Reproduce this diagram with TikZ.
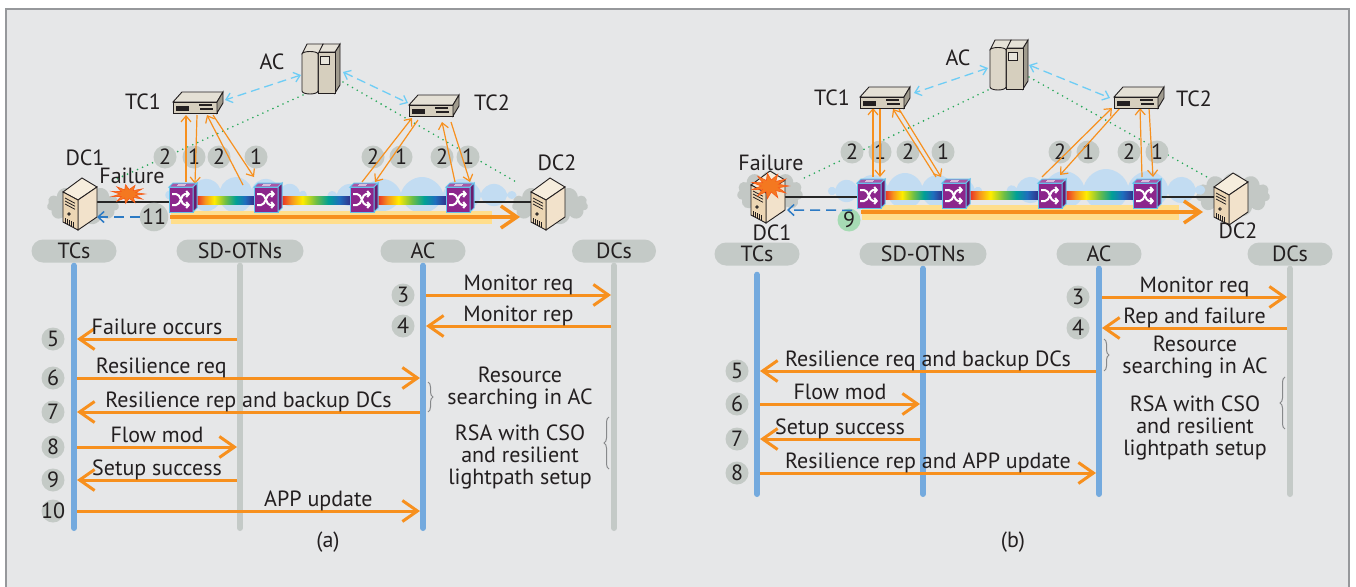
\documentclass[tikz,border=0pt]{standalone}
\usepackage{fontspec}
\setmainfont{PT Sans}
\usetikzlibrary{calc,shapes.geometric,shapes.symbols,arrows.meta,positioning,backgrounds,decorations.pathreplacing}
\definecolor{panelgray}{RGB}{230,231,232}
\definecolor{framegray}{RGB}{150,152,155}
\definecolor{txt}{RGB}{35,31,32}
\definecolor{msgorange}{RGB}{247,144,30}
\definecolor{lifeblue}{RGB}{116,170,222}
\definecolor{lifegray}{RGB}{196,202,199}
\definecolor{numgray}{RGB}{196,202,198}
\definecolor{numgreen}{RGB}{166,219,180}
\definecolor{swfront}{RGB}{140,38,140}
\definecolor{swtop}{RGB}{170,86,166}
\definecolor{swside}{RGB}{106,26,110}
\definecolor{swedge}{RGB}{100,196,236}
\definecolor{cloudblue}{RGB}{194,220,242}
\definecolor{cloudgray}{RGB}{195,200,197}
\definecolor{bandyellow}{RGB}{255,222,140}
\definecolor{dotgreen}{RGB}{38,168,88}
\definecolor{ctlblue}{RGB}{110,205,245}
\definecolor{dcblue}{RGB}{44,122,196}
\definecolor{srvbeige}{RGB}{214,207,190}
\definecolor{pcbeige}{RGB}{236,214,180}
\definecolor{boom}{RGB}{244,120,32}
\definecolor{rbred}{RGB}{232,50,40}
\definecolor{rborange}{RGB}{247,148,30}
\definecolor{rbyellow}{RGB}{255,236,0}
\definecolor{rbgreen}{RGB}{110,190,70}
\definecolor{rbteal}{RGB}{0,160,150}
\definecolor{rbblue}{RGB}{30,110,190}
\definecolor{rbnavy}{RGB}{50,50,140}

\pgfdeclarehorizontalshading{rainbow}{100bp}{color(0bp)=(rbred); color(25bp)=(rbred);
  color(32bp)=(rborange); color(40bp)=(rbyellow); color(50bp)=(rbgreen);
  color(59bp)=(rbteal); color(67bp)=(rbblue); color(75bp)=(rbnavy); color(100bp)=(rbnavy)}

\tikzset{
  pill/.style={rounded corners=11.5pt, fill=lifegray, minimum height=23pt, inner sep=0pt},
  num/.style={circle, fill=numgray, minimum size=23pt, inner sep=0pt},
  lifeb/.style={draw=lifeblue, line width=6pt, line cap=round},
  lifeg/.style={draw=lifegray, line width=6pt, line cap=round},
  msg/.style={draw=msgorange, line width=3pt, -{Straight Barb[length=15pt,width=21pt]},
    shorten <=3pt, shorten >=3pt},
  msgtxt/.style={above, inner sep=1pt, text height=0.72em, text depth=0.25em},
  note/.style={align=center, inner sep=0pt},
  brc/.style={draw=framegray!90!black, line width=1pt, decorate, decoration={brace, amplitude=5pt}},
  lbl/.style={inner sep=0pt},
  dccloud/.style={cloud, cloud puffs=11, aspect=1.8, minimum width=72pt, minimum height=40pt,
    fill=cloudgray, inner sep=0pt},
  otncloud/.style={cloud, cloud puffs=14, aspect=4, minimum height=36pt, fill=cloudblue, inner sep=0pt},
  band/.style={fill=bandyellow, minimum height=13pt, inner sep=0pt},
  fibre/.style={draw=black!85, line width=2.5pt},
  proto/.style={draw=msgorange, line width=3.5pt, -{Straight Barb[length=16pt,width=22pt]}},
  ctl/.style={draw=msgorange, line width=1.2pt, -{Straight Barb[length=6pt,width=10pt]}},
  ctldash/.style={draw=ctlblue, line width=1.3pt, dash pattern=on 9pt off 5pt,
    {Straight Barb[length=6pt,width=10pt]}-{Straight Barb[length=6pt,width=10pt]}},
  mondot/.style={draw=dotgreen, line width=1.8pt, line cap=round, dash pattern=on 0pt off 5.5pt},
  dcdash/.style={draw=dcblue, line width=1.5pt, dash pattern=on 10pt off 6pt,
    -{Straight Barb[length=6pt,width=11pt]}},
  % failure burst
  burst/.pic={
    \filldraw[fill=boom, draw=boom!75!red, line width=0.6pt]
      plot[samples at={0,...,21}, variable=\k]
        ({ifthenelse(mod(\k,2)==0,17,8)*cos(\k*360/22)}, {ifthenelse(mod(\k,2)==0,9.5,4.5)*sin(\k*360/22)}) -- cycle;
  },
  % optical switch cube
  otnsw/.pic={
    \filldraw[fill=swfront, draw=swedge, line width=1pt] (-14,-10) rectangle (10,15);
    \filldraw[fill=swtop, draw=swedge, line width=1pt] (-14,-10) -- (-10,-14) -- (14,-14) -- (10,-10) -- cycle;
    \filldraw[fill=swside, draw=swedge, line width=1pt] (10,-10) -- (14,-14) -- (14,11) -- (10,15) -- cycle;
    \draw[white!60!swtop, line width=0.7pt] (-5,-12.8) -- (3,-12.8) (-6,-11.2) -- (2,-11.2);
    \draw[white, line width=2pt, -{Straight Barb[length=2.5pt,width=6pt]}]
      (-11,-3) -- (-7,-3) .. controls (-2,-3) and (-2,8) .. (2,8) -- (7,8);
    \draw[white, line width=2pt, -{Straight Barb[length=2.5pt,width=6pt]}]
      (-11,8) -- (-7,8) .. controls (-2,8) and (-2,-3) .. (2,-3) -- (7,-3);
  },
  % flat controller box
  tcbox/.pic={
    \filldraw[fill=srvbeige!65!white, draw=txt, line width=0.9pt] (-26,-1) -- (-17,-11) -- (24,-11) -- (18,-1) -- cycle;
    \filldraw[fill=srvbeige, draw=txt, line width=0.9pt] (-26,-1) rectangle (18,10);
    \filldraw[fill=srvbeige!75!black, draw=txt, line width=0.9pt] (18,-1) -- (24,-11) -- (24,0) -- (18,10) -- cycle;
    \fill[txt] (-23,3) rectangle (-10,8);
    \draw[txt, line width=1.1pt] (0,2) -- (13,2) (1,6) -- (14,6);
  },
  % orchestrator cabinet
  acsrv/.pic={
    \filldraw[fill=srvbeige!75!black, draw=txt, line width=0.9pt] (14,-17) -- (19,-25) -- (19,16) -- (14,24) -- cycle;
    \filldraw[fill=srvbeige!60!white, draw=txt, line width=0.9pt] (-3,-17) -- (2,-25) -- (19,-25) -- (14,-17) -- cycle;
    \filldraw[fill=srvbeige, draw=txt, line width=0.9pt] (-3,-17) rectangle (14,24);
    \filldraw[fill=srvbeige!55!white, draw=txt, line width=0.9pt] (-1,-13) rectangle (8,-5);
    \filldraw[fill=srvbeige!60!white, draw=txt, line width=0.9pt] (-19,-15) -- (-14,-25) -- (2,-25) -- (-3,-15) -- cycle;
    \filldraw[fill=srvbeige!85!white, draw=txt, line width=0.9pt] (-19,-15)
      arc[start angle=180, end angle=360, x radius=8, y radius=2.5] -- (-3,22)
      arc[start angle=0, end angle=180, x radius=8, y radius=3] -- cycle;
  },
  % data centre tower
  dcsrv/.pic={
    \filldraw[fill=pcbeige!45!white, draw=txt, line width=0.9pt] (-17,-11) -- (2,-25) -- (17,-16) -- (-2,-3) -- cycle;
    \filldraw[fill=pcbeige!70!white, draw=txt, line width=0.9pt] (-2,-3) -- (17,-16) -- (17,14) -- (-2,27) -- cycle;
    \filldraw[fill=pcbeige, draw=txt, line width=0.9pt] (-17,-11) -- (-2,-3) -- (-2,27) -- (-17,19) -- cycle;
    \draw[txt, line width=0.8pt] (-15,-5) -- (-5,0.3) (-15,-2) -- (-5,3.3) (-15,1) -- (-5,6.3);
    \draw[txt, line width=0.8pt] (-11,11) circle[radius=1.3];
    \foreach \k in {0,...,4} \draw[txt, line width=0.7pt] (-15+2*\k,15+1.07*\k) -- ++(0,6);
  }
}

\begin{document}
\begin{tikzpicture}[x=1pt, y=-1pt, font=\fontsize{22}{22}\selectfont, text=txt]
  \useasboundingbox (0,0) rectangle (1356,586);
  \draw[fill=panelgray, draw=framegray, line width=1.5pt] (6,9) rectangle (1349,600);

  %% ---------------- (a) network ----------------
  \coordinate (aca) at (321,69);
  \coordinate (tc1a) at (199,103);
  \coordinate (tc2a) at (435,106);
  \coordinate (dc1a) at (80,203);
  \coordinate (dc2a) at (548,203);
  \coordinate (s1a) at (183,197);
  \coordinate (s2a) at (268,197);
  \coordinate (s3a) at (364,197);
  \coordinate (s4a) at (460,197);

  \node[dccloud] (cl1a) at (83,205) {};
  \node[dccloud, minimum width=76pt] (cl2a) at (550,205) {};
  \node[otncloud, minimum width=140pt] (ocl1a) at (236,195) {};
  \node[otncloud, minimum width=185pt] (ocl2a) at (422,195) {};
  \node[band, minimum width=321pt] (banda) at (331,217) {};

  \draw[fibre] ($(dc1a)+(17,-1)$) -- ($(s1a)+(-14,5)$);
  \draw[fibre] ($(s4a)+(14,5)$) -- ($(dc2a)+(-17,-1)$);
  \shade[shading=rainbow] ($(s1a)+(14,-1)$) rectangle ($(s2a)+(-14,7)$);
  \shade[shading=rainbow] ($(s2a)+(14,-1)$) rectangle ($(s3a)+(-14,7)$);
  \shade[shading=rainbow] ($(s3a)+(14,-1)$) rectangle ($(s4a)+(-14,7)$);

  \draw[mondot] ($(aca)+(-18,26)$) -- ($(dc1a)+(30,-21)$);
  \draw[mondot] ($(aca)+(22,13)$) -- ($(dc2a)+(-30,-20)$);
  \draw[ctldash] ($(aca)+(-20,6)$) -- ($(tc1a)+(26,-3)$);
  \draw[ctldash] ($(aca)+(22,3)$) -- ($(tc2a)+(-27,-3)$);

  \node[num] (c1a) at (165,157) {2};
  \node[num] (c2a) at (194,157) {1};
  \node[num] (c3a) at (219,157) {2};
  \node[num] (c4a) at (256,157) {1};
  \node[num] (c5a) at (373,157) {2};
  \node[num] (c6a) at (401,157) {1};
  \node[num] (c7a) at (442,157) {2};
  \node[num] (c8a) at (468,157) {1};

  \draw[ctl] ($(s1a)+(3,-15)$) -- ($(tc1a)+(-13,12)$);
  \draw[ctl] ($(tc1a)+(-2,12)$) -- ($(s1a)+(12,-13)$);
  \draw[ctl] ($(s2a)+(-25,-12)$) -- ($(tc1a)+(8,12)$);
  \draw[ctl] ($(tc1a)+(14,12)$) -- ($(s2a)+(-14,-20)$);
  \draw[ctl] ($(s3a)+(-2,-15)$) -- ($(tc2a)+(-23,12)$);
  \draw[ctl] ($(tc2a)+(-17,14)$) -- ($(s3a)+(11,-15)$);
  \draw[ctl] ($(s4a)+(-5,-15)$) -- ($(tc2a)+(7,16)$);
  \draw[ctl] ($(tc2a)+(16,16)$) -- ($(s4a)+(10,-15)$);

  \pic at (s1a) {otnsw};
  \pic at (s2a) {otnsw};
  \pic at (s3a) {otnsw};
  \pic at (s4a) {otnsw};
  \pic at (dc1a) {dcsrv};
  \pic at (dc2a) {dcsrv};
  \pic at (tc1a) {tcbox};
  \pic at (tc2a) {tcbox};
  \pic at (aca) {acsrv};

  \pic at (128,194) {burst};
  \node[lbl] (aclba) at (272,62) {AC};
  \node[lbl] (tc1lba) at (143,102) {TC1};
  \node[lbl] (tc2lba) at (492,103) {TC2};
  \node[lbl] (dc1lba) at (85,158) {DC1};
  \node[lbl] (dc2lba) at (557,163) {DC2};
  \node[lbl] (faila) at (132,176) {Failure};

  \draw[proto] (banda.west) -- ($(dc2a)+(-28,14)$);
  \node[num] (n11a) at (154,217) {11};
  \draw[dcdash] (n11a.west) -- ($(dc1a)+(17,14)$);

  %% ---------------- (a) messages ----------------
  \coordinate (bota) at (0,528);
  \node[pill, minimum width=85pt] (tcsa) at (74,251) {TCs};
  \node[pill, minimum width=127pt] (otna) at (240,251) {SD-OTNs};
  \node[pill, minimum width=85pt] (acsa) at (423,251) {AC};
  \node[pill, minimum width=84pt] (dcsa) at (614,251) {DCs};
  \draw[lifeb] ($(tcsa.south)+(0,3)$) -- (tcsa |- bota);
  \draw[lifeg] ($(otna.south)+(0,3)$) -- (otna |- bota);
  \draw[lifeg] ($(dcsa.south)+(0,3)$) -- (dcsa |- bota);
  \draw[lifeb] ($(acsa.south)+(0,3)$) -- (acsa |- bota);

  \node[num] (m3a) at (403,295) {3};
  \node[num] (m4a) at (403,326) {4};
  \node[num] (m5a) at (53,339) {5};
  \node[num] (m6a) at (53,378) {6};
  \node[num] (m7a) at (53,412) {7};
  \node[num] (m8a) at (53,447) {8};
  \node[num] (m9a) at (53,480) {9};
  \node[num] (m10a) at (53,511) {\makebox[0pt]{10}};

  \draw[msg] (acsa |- m3a) -- (dcsa |- m3a) node[msgtxt, midway] {Monitor req};
  \draw[msg] (dcsa |- m4a) -- (acsa |- m4a) node[msgtxt, midway] {Monitor rep};
  \draw[msg] (otna |- m5a) -- (tcsa |- m5a) node[msgtxt, midway] {Failure occurs};
  \draw[msg] (tcsa |- m6a) -- (acsa |- m6a) node[msgtxt, pos=0.25] {Resilience req};
  \draw[msg] (acsa |- m7a) -- (tcsa |- m7a) node[msgtxt, midway] {Resilience rep and backup DCs};
  \draw[msg] (tcsa |- m8a) -- (otna |- m8a) node[msgtxt, midway] {Flow mod};
  \draw[msg] (otna |- m9a) -- (tcsa |- m9a) node[msgtxt, midway] {Setup success};
  \draw[msg] (tcsa |- m10a) -- (acsa |- m10a) node[msgtxt, pos=0.7] {APP update};

  \node[note] (resa) at (520,388) {Resource\\searching in AC};
  \node[note] (rsaa) at (520,457) {RSA with CSO\\and resilient\\lightpath setup};
  \draw[brc] ($(resa)+(-92,-6)$) -- ($(resa)+(-92,24)$);
  \draw[brc] ($(rsaa)+(89,12)$) -- ($(rsaa)+(89,-40)$);
  \node[lbl] (capa) at (328,542) {(a)};

  %% ---------------- (b) network ----------------
  \coordinate (acb) at (1009,65);
  \coordinate (tc1b) at (886,98);
  \coordinate (tc2b) at (1140,98);
  \coordinate (dc1b) at (768,196);
  \coordinate (dc2b) at (1231,198);
  \coordinate (s1b) at (871,193);
  \coordinate (s2b) at (956,193);
  \coordinate (s3b) at (1052,193);
  \coordinate (s4b) at (1147,193);

  \node[dccloud, minimum width=66pt, minimum height=44pt] (cl1b) at (770,193) {};
  \node[dccloud, minimum width=74pt, minimum height=44pt] (cl2b) at (1233,195) {};
  \node[otncloud, minimum width=152pt] (ocl1b) at (905,191) {};
  \node[otncloud, minimum width=195pt, minimum height=42pt] (ocl2b) at (1106,190) {};
  \node[band, minimum width=317pt, minimum height=15pt] (bandb) at (1020,212) {};

  \draw[fibre] ($(dc1b)+(17,1)$) -- ($(s1b)+(-14,4)$);
  \draw[fibre] ($(s4b)+(14,4)$) -- ($(dc2b)+(-17,-1)$);
  \shade[shading=rainbow] ($(s1b)+(14,-2)$) rectangle ($(s2b)+(-14,6)$);
  \shade[shading=rainbow] ($(s2b)+(14,-2)$) rectangle ($(s3b)+(-14,6)$);
  \shade[shading=rainbow] ($(s3b)+(14,-2)$) rectangle ($(s4b)+(-14,6)$);

  \draw[mondot] ($(acb)+(-21,25)$) -- ($(dc1b)+(32,-16)$);
  \draw[mondot] ($(acb)+(20,12)$) -- ($(dc2b)+(-24,-21)$);
  \draw[ctldash] ($(acb)+(-21,3)$) -- ($(tc1b)+(28,-5)$);
  \draw[ctldash] ($(acb)+(20,0)$) -- ($(tc2b)+(-30,0)$);

  \node[num] (c1b) at (852,152) {2};
  \node[num] (c2b) at (880,152) {1};
  \node[num] (c3b) at (908,152) {2};
  \node[num] (c4b) at (943,152) {1};
  \node[num] (c5b) at (1060,152) {2};
  \node[num] (c6b) at (1088,152) {1};
  \node[num] (c7b) at (1129,152) {2};
  \node[num] (c8b) at (1157,152) {1};

  \draw[ctl] ($(s1b)+(2,-16)$) -- ($(tc1b)+(-13,10)$);
  \draw[ctl] ($(tc1b)+(-6,10)$) -- ($(s1b)+(9,-16)$);
  \draw[ctl] ($(s2b)+(-20,-16)$) -- ($(tc1b)+(7,11)$);
  \draw[ctl] ($(tc1b)+(13,11)$) -- ($(s2b)+(-15,-16)$);
  \draw[ctl] ($(s3b)+(-10,-16)$) -- ($(tc2b)+(-28,10)$);
  \draw[ctl] ($(tc2b)+(-20,10)$) -- ($(s3b)+(8,-18)$);
  \draw[ctl] ($(s4b)+(-5,-16)$) -- ($(tc2b)+(0,10)$);
  \draw[ctl] ($(tc2b)+(9,10)$) -- ($(s4b)+(6,-16)$);

  \pic at (s1b) {otnsw};
  \pic at (s2b) {otnsw};
  \pic at (s3b) {otnsw};
  \pic at (s4b) {otnsw};
  \pic at (dc1b) {dcsrv};
  \pic at (dc2b) {dcsrv};
  \pic at (tc1b) {tcbox};
  \pic at (tc2b) {tcbox};
  \pic at (acb) {acsrv};

  \pic[xscale=1.1, yscale=1.35] at (770,186) {burst};
  \node[lbl] (aclbb) at (958,58) {AC};
  \node[lbl] (tc1lbb) at (832,98) {TC1};
  \node[lbl] (tc2lbb) at (1194,99) {TC2};
  \node[lbl] (failb) at (771,163) {Failure};
  \node[lbl] (dc1lbb) at (772,233) {DC1};
  \node[lbl] (dc2lbb) at (1238,231) {DC2};

  \draw[proto] (bandb.west) -- ($(dc2b)+(-28,14)$);
  \node[num, fill=numgreen] (n9b) at (849,220) {9};
  \draw[dcdash] ($(n9b.north)+(3,2)$) -- ($(dc1b)+(19,14)$);

  %% ---------------- (b) messages ----------------
  \coordinate (botb) at (0,494);
  \node[pill, minimum width=85pt] (tcsb) at (757,254) {TCs};
  \node[pill, minimum width=127pt] (otnb) at (923,254) {SD-OTNs};
  \node[pill, minimum width=85pt] (acsb) at (1099,254) {AC};
  \node[pill, minimum width=85pt] (dcsb) at (1290,254) {DCs};
  \draw[lifeb] ($(tcsb.south)+(0,9)$) -- (tcsb |- botb);
  \draw[lifeb] ($(otnb.south)+(0,3)$) -- (otnb |- botb);
  \draw[lifeb] ($(acsb.south)+(0,3)$) -- (acsb |- botb);
  \draw[lifeg] ($(dcsb.south)+(0,3)$) -- (dcsb |- botb);

  \node[num] (m3b) at (1078,297) {3};
  \node[num] (m4b) at (1078,328) {4};
  \node[num] (m5b) at (737,371) {5};
  \node[num] (m6b) at (737,404) {6};
  \node[num] (m7b) at (737,439) {7};
  \node[num] (m8b) at (737,473) {8};

  \draw[msg] (acsb |- m3b) -- (dcsb |- m3b) node[msgtxt, midway] {Monitor req};
  \draw[msg] (dcsb |- m4b) -- (acsb |- m4b) node[msgtxt, midway] {Rep and failure};
  \draw[msg] (acsb |- m5b) -- (tcsb |- m5b) node[msgtxt, midway] {Resilience req and backup DCs};
  \draw[msg] (tcsb |- m6b) -- (otnb |- m6b) node[msgtxt, midway] {Flow mod};
  \draw[msg] (otnb |- m7b) -- (tcsb |- m7b) node[msgtxt, midway] {Setup success};
  \draw[msg] (tcsb |- m8b) -- (acsb |- m8b) node[msgtxt, midway] {Resilience rep and APP update};

  \node[note] (resb) at (1195,357) {Resource\\searching in AC};
  \node[note] (rsab) at (1195,428) {RSA with CSO\\and resilient\\lightpath setup};
  \draw[brc] ($(resb)+(-91,-18)$) -- ($(resb)+(-91,14)$);
  \draw[brc] ($(rsab)+(90,1)$) -- ($(rsab)+(90,-51)$);
  \node[lbl] (capb) at (1013,542) {(b)};
\end{tikzpicture}
\end{document}
